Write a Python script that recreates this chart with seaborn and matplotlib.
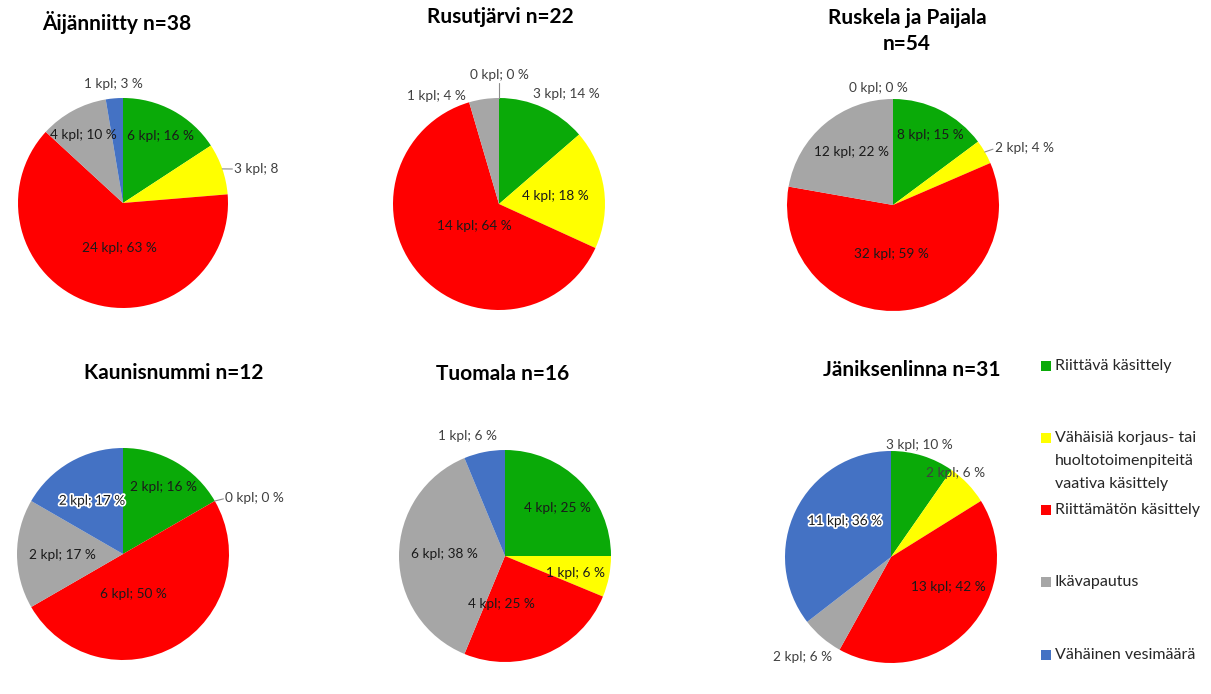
import numpy as np
import matplotlib
matplotlib.use('Agg')
import matplotlib.pyplot as plt
import matplotlib.patheffects as pe
from matplotlib.patches import Rectangle
import seaborn as sns

# categories / legend
categories = ['Riittävä käsittely',
              'Vähäisiä korjaus- tai\nhuoltotoimenpiteitä\nvaativa käsittely',
              'Riittämätön käsittely', 'Ikävapautus', 'Vähäinen vesimäärä']
titles = ['Äijänniitty n=38', 'Rusutjärvi n=22', 'Ruskela ja Paijala\nn=54',
          'Kaunisnummi n=12', 'Tuomala n=16', 'Jäniksenlinna n=31']

# counts (kpl) per site, order as categories
aijanniitty = [6, 3, 24, 4, 1]
rusutjarvi = [3, 4, 14, 1, 0]
ruskela = [8, 2, 32, 12, 0]
kaunisnummi = [2, 0, 6, 2, 2]
tuomala = [4, 1, 4, 6, 1]
janiksenlinna = [3, 2, 13, 2, 11]

# percentages as printed on the labels
pct_aijanniitty = [16, 8, 63, 10, 3]
pct_rusutjarvi = [14, 18, 64, 4, 0]
pct_ruskela = [15, 4, 59, 22, 0]
pct_kaunisnummi = [16, 0, 50, 17, 17]
pct_tuomala = [25, 6, 25, 38, 6]
pct_janiksenlinna = [10, 6, 42, 6, 36]

counts = [aijanniitty, rusutjarvi, ruskela, kaunisnummi, tuomala, janiksenlinna]
pcts = [pct_aijanniitty, pct_rusutjarvi, pct_ruskela,
        pct_kaunisnummi, pct_tuomala, pct_janiksenlinna]

colors = sns.color_palette(['#0AAA08', '#FFFF00', '#FF0000', '#A6A6A6', '#4472C4'])

W, H = 1211, 694
# pie center x, y, radius (pixels)
pie_pos = [(123, 203, 105), (499, 204, 106), (893, 205, 106),
           (123, 554, 106), (505, 556, 106), (891, 557, 106)]
title_pos = [(117, 22), (500, 17), (907, 31), (174, 373), (503, 374), (912, 370)]

# label style: (radial distance, angle nudge, ha, va, leader, cut, glow)
D = ('center', 'center', False, False, False)
lab_style = [
    [(0.73, 1) + D, (1.11, 2, 'left', 'center', True, True, False), (0.43, -15) + D,
     (0.75, -2) + D, (1.14, 0) + D],
    [(1.22, 7) + D, (0.54, 0) + D, (0.31, 0) + D, (1.18, -22) + D,
     (1.16, 0, 'center', 'bottom', True, False, False)],
    [(0.75, 1) + D, (1.10, 1, 'left', 'center', True, False, False), (0.46, 9) + D,
     (0.63, 2) + D, (1.11, -7) + D],
    [(0.74, 1) + D, (1.10, 1.5, 'left', 'center', True, False, False), (0.39, 15) + D,
     (0.57, -1) + D, (0.58, 0, 'center', 'center', False, False, True)],
    [(0.67, 2) + D, (0.68, 2) + D, (0.45, 27) + D, (0.57, 2) + D, (1.19, -6) + D],
    [(1.09, -3) + D, (1.0, -9) + D, (0.61, -16) + D, (1.26, 1) + D,
     (0.55, 12, 'center', 'center', False, False, True)],
]

sns.set_theme(style='white')
plt.rcParams['font.family'] = ['Lato', 'DejaVu Sans']

fig = plt.figure(figsize=(W / 100, H / 100), dpi=100)
fig.patch.set_facecolor('white')

# overlay in pixel coordinates for titles and legend
ov = fig.add_axes([0, 0, 1, 1])
ov.set_xlim(0, W)
ov.set_ylim(H, 0)
ov.axis('off')

for i in range(6):
    cx, cy, r = pie_pos[i]
    ax = fig.add_axes([(cx - r) / W, (H - cy - r) / H, 2 * r / W, 2 * r / H])
    vals = counts[i]
    ax.pie(vals, colors=colors, startangle=90, counterclock=False,
           radius=1, wedgeprops=dict(linewidth=0))
    ax.set_xlim(-1, 1)
    ax.set_ylim(-1, 1)
    ax.axis('off')
    tot = sum(vals)
    cum = np.cumsum([0] + vals[:-1])
    for j, v in enumerate(vals):
        d, nud, ha, va, leader, cut, glow = lab_style[i][j]
        mid = 360.0 * (cum[j] + v / 2) / tot
        a = np.radians(mid + nud)
        x, y = d * np.sin(a), d * np.cos(a)
        txt = f'{v} kpl; {pcts[i][j]}' if cut else f'{v} kpl; {pcts[i][j]} %'
        outside = d > 0.95
        t = ax.text(x, y, txt, ha=ha, va=va, fontsize=9.8,
                    color='#404040' if outside else '#1a1a1a')
        if glow:
            t.set_path_effects([pe.withStroke(linewidth=2.5, foreground='white')])
        if leader:
            m = np.radians(mid)
            ex, ey = np.sin(m), np.cos(m)
            dx, dy = x - ex, y - ey
            k = 0.02 / np.hypot(dx, dy)
            ax.plot([ex, x - dx * k], [ey, y - dy * k], color='#8c8c8c', lw=0.8,
                    clip_on=False)
    tx, ty = title_pos[i]
    ov.text(tx, ty, titles[i], ha='center', va='center', fontsize=15,
            fontweight='bold', color='black', linespacing=1.4)

# legend drawn by hand so each entry aligns on its first line
leg_y = [366, 438, 510, 582, 655]
for c, lab, y in zip(colors, categories, leg_y):
    ov.add_patch(Rectangle((1041, y - 5), 10, 10, facecolor=c, edgecolor='none'))
    ov.text(1055, y - 7, lab, ha='left', va='top', fontsize=11.5,
            color='#262626', linespacing=1.8)

fig.savefig('out.png', dpi=100, facecolor='white')
